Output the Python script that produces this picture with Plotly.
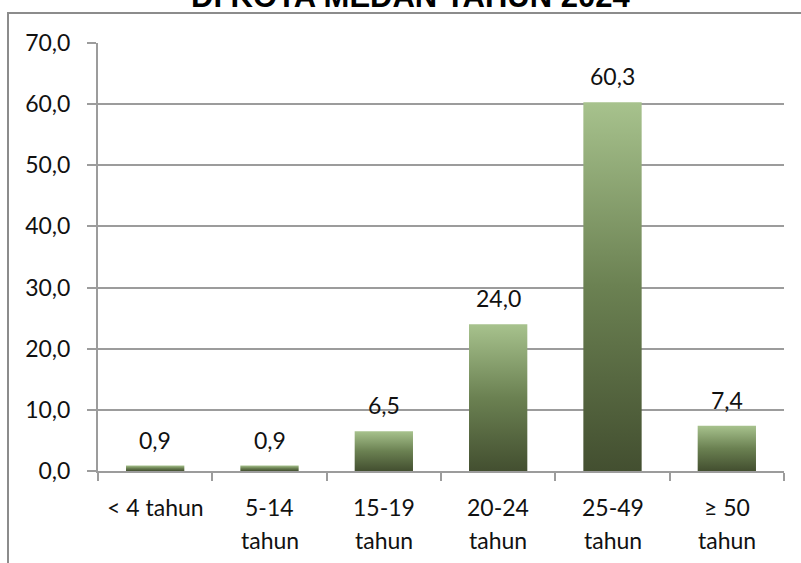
import plotly.graph_objects as go

# Data
line1 = ["< 4 tahun", "5-14", "15-19", "20-24", "25-49", "≥ 50"]
line2 = ["", "tahun", "tahun", "tahun", "tahun", "tahun"]
values = [0.9, 0.9, 6.5, 24.0, 60.3, 7.4]
title_text = "DI KOTA MEDAN TAHUN 2024"

FONT = "Lato, Open Sans, sans-serif"
FS = 23
TXT = "#111111"
GRID = "#9c9c9c"
BAR_HALF = 0.255

fig = go.Figure()

# bars drawn as filled polygons so each can carry a vertical gradient
for i, v in enumerate(values):
    xs = [i - BAR_HALF, i + BAR_HALF, i + BAR_HALF, i - BAR_HALF, i - BAR_HALF]
    ys = [0, 0, v, v, 0]
    fig.add_trace(go.Scatter(
        x=xs, y=ys, mode="lines", fill="toself",
        line=dict(width=0, color="rgba(0,0,0,0)"),
        fillgradient=dict(type="vertical",
                          colorscale=[[0, "#434f30"], [0.5, "#6b8152"], [1, "#a7c28d"]]),
        hoverinfo="skip", showlegend=False,
    ))

# data labels
for i, v in enumerate(values):
    fig.add_annotation(x=i, y=v, xref="x", yref="y",
                       text=f"{v:.1f}".replace(".", ","), showarrow=False,
                       yanchor="middle", yshift=26,
                       font=dict(family=FONT, size=FS, color=TXT))

# category labels (two lines with Excel-like spacing)
for i, (a, b) in enumerate(zip(line1, line2)):
    fig.add_annotation(x=i, y=0, xref="x", yref="paper", text=a, showarrow=False,
                       yanchor="middle", yshift=-36,
                       font=dict(family=FONT, size=FS, color=TXT))
    if b:
        fig.add_annotation(x=i, y=0, xref="x", yref="paper", text=b, showarrow=False,
                           yanchor="middle", yshift=-69,
                           font=dict(family=FONT, size=FS, color=TXT))

# title (partly above the visible area, like the reference)
fig.add_annotation(x=0.456, y=1.063, xref="paper", yref="paper", text=f"<b>{title_text}</b>",
                   showarrow=False, yanchor="bottom", xanchor="center",
                   font=dict(family="Liberation Sans, Arial, sans-serif", size=31, color="#000"))

# outer chart frame
fig.add_shape(type="rect", xref="paper", yref="paper",
              x0=-0.1312, x1=1.2, y0=-0.4, y1=1.0701,
              line=dict(color="#8c8c8c", width=2), layer="below")

fig.update_layout(
    template="none",
    width=801, height=563,
    margin=dict(l=98, r=17, t=43, b=92, autoexpand=False),
    paper_bgcolor="white", plot_bgcolor="white",
    separators=",.",
    xaxis=dict(range=[-0.5, 5.5], tickmode="array",
               tickvals=[-0.5 + k for k in range(7)],
               showticklabels=False, ticks="outside", ticklen=8,
               tickcolor=GRID, tickwidth=2, showgrid=False, zeroline=False,
               showline=True, linecolor=GRID, linewidth=2, fixedrange=True),
    yaxis=dict(range=[0, 70], tickmode="linear", tick0=0, dtick=10, tickformat=".1f",
               ticks="outside", ticklen=9, tickcolor=GRID, tickwidth=2,
               showgrid=True, gridcolor=GRID, gridwidth=2, zeroline=False,
               showline=True, linecolor=GRID, linewidth=2,
               ticklabelstandoff=12,
               tickfont=dict(family=FONT, size=FS, color=TXT)),
)

fig.write_html("out.html", config={"displayModeBar": False},
               post_script="document.body.style.margin='0';")
